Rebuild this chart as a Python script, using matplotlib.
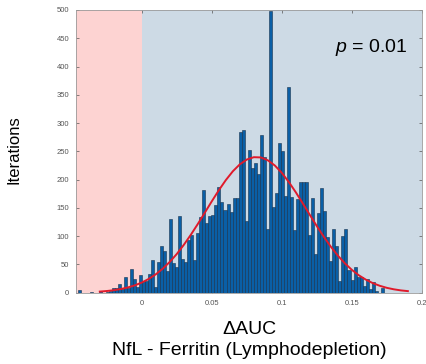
import matplotlib
matplotlib.use("Agg")
import matplotlib.pyplot as plt
import numpy as np

# histogram bins
bin_start = -0.04536
bin_width = 0.00216
counts_neg = [5, 0, 0, 0, 1, 0, 0, 3, 0, 2, 3, 8, 9, 15, 6, 27, 8, 42, 25, 10, 32]
counts_pos = [21, 21, 33, 58, 10, 55, 83, 73, 38, 131,
              52, 46, 135, 59, 54, 93, 102, 57, 106, 133,
              182, 123, 135, 137, 155, 186, 160, 146, 156, 142,
              168, 167, 285, 288, 126, 252, 220, 229, 210, 279,
              240, 113, 499, 152, 177, 265, 251, 171, 363, 170,
              111, 165, 196, 196, 196, 102, 167, 68, 141, 185,
              145, 99, 56, 113, 83, 21, 101, 113, 40, 22,
              46, 27, 28, 11, 24, 6, 18, 3, 0, 9]

# fitted curve, read every 0.005
fit_x = [-0.030, -0.025, -0.020, -0.015, -0.010, -0.005, 0.000, 0.005, 0.010, 0.015,
         0.020, 0.025, 0.030, 0.035, 0.040, 0.045, 0.050, 0.055, 0.060, 0.065,
         0.070, 0.075, 0.080, 0.085, 0.090, 0.095, 0.100, 0.105, 0.110, 0.115,
         0.120, 0.125, 0.130, 0.135, 0.140, 0.145, 0.150, 0.155, 0.160, 0.165,
         0.170, 0.175, 0.180, 0.185, 0.190]
fit_y = [1.9, 2.9, 4.3, 6.4, 9.2, 12.9, 17.9, 24.4, 32.5, 42.5,
         54.5, 68.5, 84.6, 102.4, 121.5, 141.5, 161.7, 181.2, 199.1, 214.7,
         227.0, 235.5, 239.6, 239.2, 234.1, 224.9, 211.8, 195.7, 177.4, 157.7,
         137.5, 117.6, 98.7, 81.2, 65.5, 51.9, 40.3, 30.7, 23.0, 16.8,
         12.1, 8.5, 5.9, 4.0, 2.7]

xticks = [0, 0.05, 0.1, 0.15, 0.2]
xticklabels = ["0", "0.05", "0.1", "0.15", "0.2"]
yticks = [0, 50, 100, 150, 200, 250, 300, 350, 400, 450, 500]
p_text = r"$p$ = 0.01"

plt.rcParams["font.family"] = ["Liberation Sans", "DejaVu Sans"]
plt.rcParams["mathtext.fontset"] = "custom"
plt.rcParams["mathtext.it"] = "Liberation Sans:italic"
plt.rcParams["mathtext.rm"] = "Liberation Sans"

fig = plt.figure(figsize=(4.27, 3.64), dpi=100)
ax = fig.add_axes([0.178, 0.196, 0.81, 0.7766])

counts = counts_neg + counts_pos
lefts = bin_start + bin_width * np.arange(len(counts))

ax.axvspan(-0.047, 0, color="#FDD3D2", zorder=0, lw=0)
ax.axvspan(0, 0.2, color="#CDDAE5", zorder=0, lw=0)

ax.bar(lefts, counts, width=bin_width, align="edge", color="#0A5FA6",
       edgecolor="#17324d", linewidth=0.4, zorder=2)
ax.plot(fit_x, fit_y, color="#E01A2B", lw=1.4, zorder=3)

ax.set_xlim(-0.047, 0.2)
ax.set_ylim(0, 500)
ax.set_xticks(xticks)
ax.set_xticklabels(xticklabels)
ax.set_yticks(yticks)
ax.tick_params(direction="in", top=True, right=True, labelsize=5.5,
               length=2.5, width=0.5, colors="#555555", pad=5)
for s in ax.spines.values():
    s.set_color("#9a9a9a")
    s.set_linewidth(0.6)

ax.text(0.19, 426, p_text, fontsize=14, ha="right", va="baseline", zorder=4)

ax.set_ylabel("Iterations", fontsize=12)
ax.yaxis.set_label_coords(-0.158, 0.505)
ax.set_xlabel("\u0394AUC\nNfL - Ferritin (Lymphodepletion)", fontsize=14,
              linespacing=1.3)
ax.xaxis.set_label_coords(0.5, -0.1)

fig.savefig("out.png", dpi=100)
